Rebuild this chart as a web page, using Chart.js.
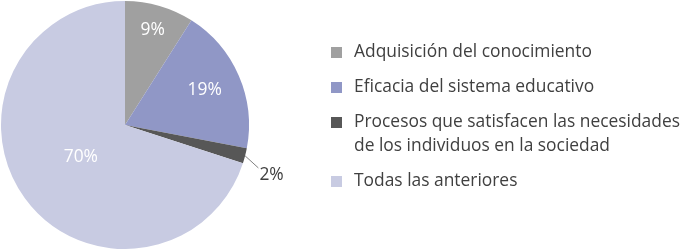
<!DOCTYPE html>
<html>
<head>
<meta charset="utf-8">
<script src="https://cdn.jsdelivr.net/npm/chart.js@4"></script>
<style>
  html, body { margin: 0; padding: 0; background: #fff; }
  #wrap { position: relative; width: 685px; height: 249px; }
</style>
</head>
<body>
<div id="wrap"><canvas id="pie"></canvas></div>
<script>
// chart data
var categories = [
  "Adquisición del conocimiento",
  "Eficacia del sistema educativo",
  ["Procesos que satisfacen las necesidades", "de los individuos en la sociedad"],
  "Todas las anteriores"
];
var values = [9, 19, 2, 70];
var percentLabels = ["9%", "19%", "2%", "70%"];

// styling
var colors = ["#a0a0a0", "#9097c6", "#575757", "#c8cbe2"];
var labelColors = ["#ffffff", "#ffffff", "#404040", "#ffffff"];
var labelRadius = [0.8, 0.7, 1.25, 0.44];   // fraction of pie radius
var FONT = "17.4px 'Open Sans'";

var labelsPlugin = {
  id: 'sliceLabels',
  afterDatasetsDraw: function (chart) {
    var ctx = chart.ctx;
    var arcs = chart.getDatasetMeta(0).data;
    ctx.save();
    ctx.font = FONT;
    ctx.textAlign = 'center';
    ctx.textBaseline = 'middle';
    arcs.forEach(function (arc, i) {
      var mid = (arc.startAngle + arc.endAngle) / 2;
      var r = arc.outerRadius;
      if (labelRadius[i] > 1) {
        // leader line for the small slice
        ctx.strokeStyle = '#808080';
        ctx.lineWidth = 1;
        ctx.beginPath();
        ctx.moveTo(arc.x + Math.cos(mid) * r, arc.y + Math.sin(mid) * r);
        ctx.lineTo(arc.x + Math.cos(mid + 0.06) * r * 1.13, arc.y + Math.sin(mid + 0.06) * r * 1.13);
        ctx.stroke();
      }
      var a = labelRadius[i] > 1 ? mid + 0.08 : mid;
      ctx.fillStyle = labelColors[i];
      ctx.fillText(percentLabels[i], arc.x + Math.cos(a) * r * labelRadius[i], arc.y + Math.sin(a) * r * labelRadius[i]);
    });

    // legend on the right
    var y = 52;
    ctx.textAlign = 'left';
    categories.forEach(function (cat, i) {
      var lines = Array.isArray(cat) ? cat : [cat];
      ctx.fillStyle = colors[i];
      ctx.fillRect(331, y - 5, 11, 11);
      ctx.fillStyle = '#404040';
      lines.forEach(function (ln, k) {
        ctx.fillText(ln, 354, y + k * 24);
      });
      y += lines.length * 24 + 11;
    });
    ctx.restore();
  }
};

new Chart(document.getElementById('pie'), {
  type: 'pie',
  data: {
    labels: categories,
    datasets: [{
      data: values,
      backgroundColor: colors,
      borderWidth: 0
    }]
  },
  options: {
    responsive: true,
    maintainAspectRatio: false,
    animation: false,
    layout: { padding: { left: 1, top: 1, right: 436, bottom: 0 } },
    plugins: {
      legend: { display: false },
      tooltip: { enabled: false }
    }
  },
  plugins: [labelsPlugin]
});
</script>
</body>
</html>
